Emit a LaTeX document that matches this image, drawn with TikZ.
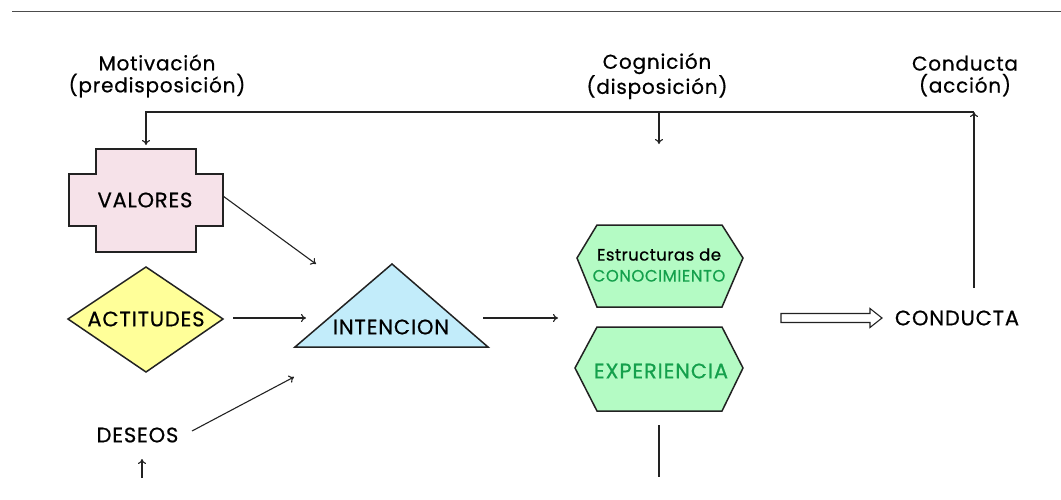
\documentclass[tikz,border=0pt]{standalone}
\usepackage{fontspec}
\setmainfont{Poppins}[FakeBold=0.6]
\usetikzlibrary{arrows.meta}
\definecolor{valfill}{HTML}{F6E2E9}
\definecolor{actfill}{HTML}{FFFF99}
\definecolor{intfill}{HTML}{C2ECFA}
\definecolor{hexfill}{HTML}{B4FBC4}
\definecolor{gtext}{HTML}{14A04C}
\definecolor{ink}{HTML}{222222}
\tikzset{
  shapeline/.style={draw=ink, line width=1.5pt, line join=miter},
  arr/.style={draw=ink, line width=1.1pt, -{To[length=5pt,width=8pt]}},
  plain/.style={draw=ink, line width=1.1pt},
  lbl/.style={font=\fontsize{20}{22}\selectfont\addfontfeature{LetterSpace=4}, text=black, inner sep=0pt, align=center},
  boxtxt/.style={font=\fontsize{21}{23}\selectfont\addfontfeature{LetterSpace=4}, text=black, inner sep=0pt},
  smalltxt/.style={font=\fontsize{16.5}{21}\selectfont\addfontfeature{LetterSpace=3}, text=black, inner sep=0pt, align=center},
}
\begin{document}
\begin{tikzpicture}[x=1pt,y=-1pt]
\useasboundingbox (0,0) rectangle (1061,499);
% top rule
\draw[draw=black!70, line width=1.6pt] (12,11.5) -- (1061,11.5);

% headings
\node[lbl] (motiv) at (157,76) {Motivación\\(predisposición)};
\node[lbl] (cogn) at (657,76) {Cognición\\(disposición)};
\node[lbl] (condh) at (965,76) {Conducta\\(acción)};

% VALORES cross
\draw[shapeline, fill=valfill] (96,149) -- (196,149) -- (196,174) -- (223,174) -- (223,226) -- (196,226) -- (196,252) -- (96,252) -- (96,226) -- (69,226) -- (69,174) -- (96,174) -- cycle;
\node[boxtxt] (val) at (145,200) {VALORES};
\coordinate (valtop) at (146,145);
\coordinate (valright) at (223,196);

% ACTITUDES diamond
\draw[shapeline, fill=actfill] (68,319) -- (146,267) -- (223,319) -- (146,372) -- cycle;
\node[boxtxt] (act) at (146,319) {ACTITUDES};
\coordinate (actright) at (233,318);

% DESEOS
\node[boxtxt] (des) at (137.5,435) {DESEOS};
\coordinate (desout) at (192,431);
\coordinate (desin) at (142,459);
\coordinate (desbot) at (142,478);

% INTENCION triangle
\draw[shapeline, fill=intfill] (392,264) -- (488,347) -- (295,347) -- cycle;
\node[boxtxt] (int) at (391,327) {INTENCION};
\coordinate (intA) at (316,264);
\coordinate (intB) at (306,318);
\coordinate (intC) at (294,377);
\coordinate (intout) at (483,318);

% hexagons
\draw[shapeline, fill=hexfill] (597,225) -- (722,225) -- (743,258) -- (722,307) -- (597,307) -- (577,258) -- cycle;
\node[smalltxt] (est) at (659,265) {Estructuras de\\\textcolor{gtext}{CONOCIMIENTO}};
\draw[shapeline, fill=hexfill] (597,327) -- (722,327) -- (743,368) -- (722,411) -- (597,411) -- (575,368) -- cycle;
\node[boxtxt, text=gtext] (exp) at (661,371) {EXPERIENCIA};
\coordinate (estin) at (558,318);
\coordinate (cogtop) at (659,144);
\coordinate (expbelowA) at (659,425);
\coordinate (expbelowB) at (659,477);

% CONDUCTA
\node[boxtxt] (cond) at (957,318) {CONDUCTA};
\coordinate (condtop) at (974,288);
\coordinate (corTR) at (974,112);
\coordinate (corTL) at (146,112);
\coordinate (corM) at (659,112);

% hollow arrow
\draw[draw=ink, line width=1.1pt, fill=white] (781,313.5) -- (870,313.5) -- (870,308.5) -- (882,318) -- (870,327.5) -- (870,322.5) -- (781,322.5) -- cycle;

% connectors
\draw[arr] (condtop) -- (corTR);
\draw[arr] (corTR) -- (corTL) -- (valtop);
\draw[arr] (corM) -- (cogtop);
\draw[arr] (valright) -- (intA);
\draw[arr] (actright) -- (intB);
\draw[arr] (desout) -- (intC);
\draw[arr] (desbot) -- (desin);
\draw[arr] (intout) -- (estin);
\draw[plain] (expbelowA) -- (expbelowB);
\end{tikzpicture}
\end{document}
